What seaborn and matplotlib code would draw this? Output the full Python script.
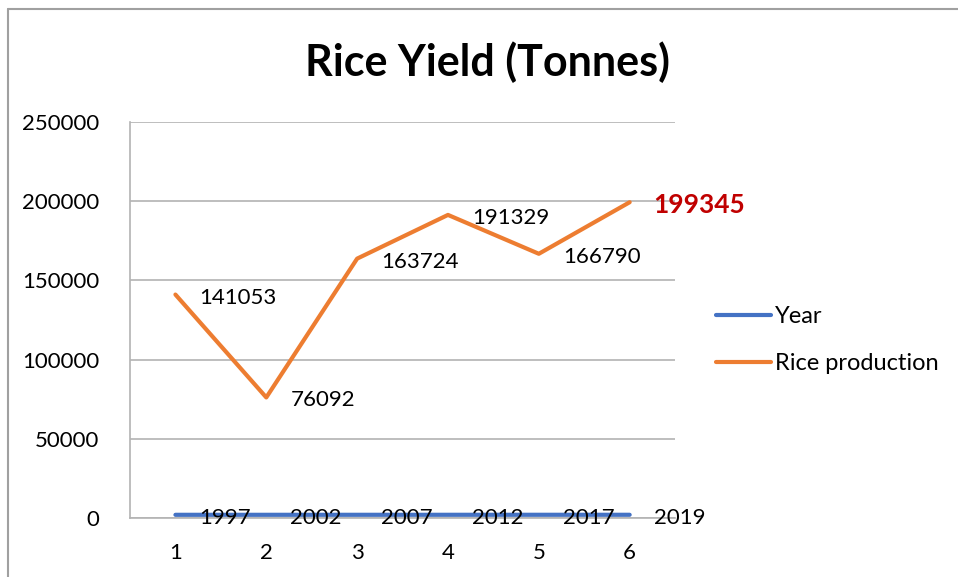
import pandas as pd
import numpy as np
import matplotlib
matplotlib.use("Agg")
import matplotlib.pyplot as plt
import seaborn as sns
from matplotlib.lines import Line2D

sns.set_theme(style="white")
plt.rcParams["font.family"] = ["Lato", "DejaVu Sans"]
plt.rcParams["text.color"] = "black"

# data
categories = [1, 2, 3, 4, 5, 6]
year = [1997, 2002, 2007, 2012, 2017, 2019]
rice = [141053, 76092, 163724, 191329, 166790, 199345]

df = pd.DataFrame({
    "cat": categories * 2,
    "value": year + rice,
    "series": ["Year"] * 6 + ["Rice production"] * 6,
})

blue = "#4472C4"
orange = "#ED7D31"
grid = "#B3B3B3"

fig = plt.figure(figsize=(9.58, 5.77), dpi=100)
ax = fig.add_axes([0.1357, 0.1023, 0.569, 0.6863])

sns.lineplot(data=df, x="cat", y="value", hue="series",
             palette={"Year": blue, "Rice production": orange},
             linewidth=3, ax=ax, legend=False)

ax.set_xlim(0.5, 6.5)
ax.set_ylim(0, 250000)
ax.set_yticks(np.arange(0, 250001, 50000))
ax.set_xticks(categories)
ax.set_xticklabels([str(c) for c in categories])
ax.yaxis.grid(True, color=grid, linewidth=1.2)
ax.xaxis.grid(False)
ax.set_axisbelow(True)
for s in ["top", "right"]:
    ax.spines[s].set_visible(False)
for s in ["left", "bottom"]:
    ax.spines[s].set_color(grid)
    ax.spines[s].set_linewidth(1.2)
ax.tick_params(axis="both", length=0, labelsize=16, colors="black")
ax.tick_params(axis="x", pad=18)
ax.tick_params(axis="y", pad=22)
ax.set_xlabel("")
ax.set_ylabel("")

# data labels, right of the points
for c, v in zip(categories, year):
    ax.annotate(str(v), (c, v), xytext=(24, -3), textcoords="offset pixels",
                ha="left", va="center", fontsize=16, color="black",
                annotation_clip=False)
for i, (c, v) in enumerate(zip(categories, rice)):
    last = i == len(rice) - 1
    ax.annotate(str(v), (c, v), xytext=(24, -3), textcoords="offset pixels",
                ha="left", va="center", fontsize=19 if last else 16,
                color="#C00000" if last else "black",
                fontweight="bold" if last else "normal",
                annotation_clip=False)

fig.suptitle("Rice Yield (Tonnes)", x=0.509, y=0.892, fontsize=31,
             fontweight="bold", va="center", color="black")

handles = [Line2D([], [], color=blue, linewidth=3),
           Line2D([], [], color=orange, linewidth=3)]
fig.legend(handles, ["Year", "Rice production"], loc="center left",
           bbox_to_anchor=(0.7255, 0.411), frameon=False, fontsize=17,
           handlelength=2.3, handletextpad=0.2, labelspacing=1.1)

# chart border (cropped screenshot edge)
fig.add_artist(Line2D([0.008, 1.0], [0.984, 0.984], color="#A0A0A0",
                      linewidth=1.5, transform=fig.transFigure))
fig.add_artist(Line2D([0.008, 0.008], [0.0, 0.984], color="#A0A0A0",
                      linewidth=1.5, transform=fig.transFigure))

fig.savefig("out.png", dpi=100)
